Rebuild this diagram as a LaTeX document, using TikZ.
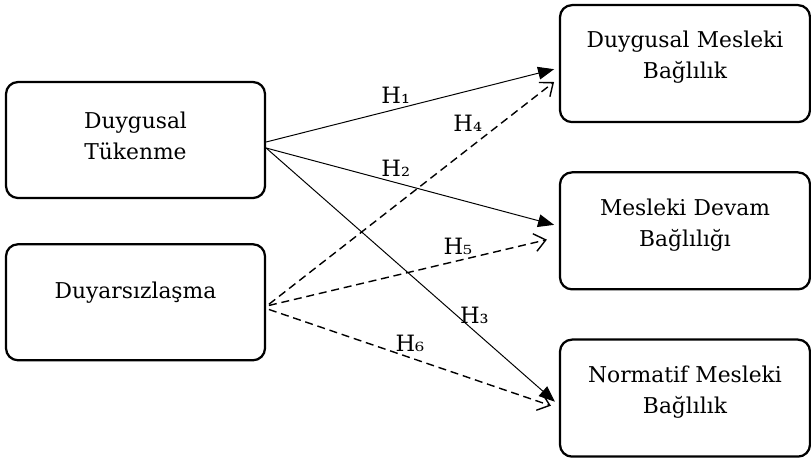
\documentclass[tikz,border=0pt]{standalone}
\usepackage{fontspec}
\setmainfont{DejaVu Serif}
\usetikzlibrary{arrows.meta,positioning}

\begin{document}
\begin{tikzpicture}[
		node distance=1.1cm,
        block/.style={draw, line width=1.6pt, rounded corners=0.3cm, fill=white, minimum height=2.9cm, minimum width=6.475cm, text width=6.2cm, text depth=1cm, align=center, font=\fontsize{15.5}{22}\selectfont},
        rblock/.style={block, minimum height=2.925cm, minimum width=6.25cm, text width=6cm, text depth=1.2cm},
        arrow/.style={line width=0.7pt, -{Triangle[length=0.4cm, width=0.32cm]}},
        darrow/.style={line width=1pt, dash pattern=on 0.2cm off 0.12cm, -{Straight Barb[length=0.28cm, width=0.45cm, line width=1pt]}},
        hlabel/.style={font=\fontsize{16}{18}\selectfont, inner sep=2pt},
	]
		\useasboundingbox (0,0) rectangle (20.275,-11.45);
		\node[block] (tuk) at (3.3875,-3.5) {Duygusal\\Tükenme};
		\node[block, below=of tuk, text depth=0.6cm] (duy) {Duyarsızlaşma};
		\node[rblock] (dmb) at (17.125,-1.59) {Duygusal Mesleki\\Bağlılık};
		\node[rblock, below=1.2cm of dmb] (mdb) {Mesleki Devam\\Bağlılığı};
		\node[rblock, below=1.2cm of mdb] (nmb) {Normatif Mesleki\\Bağlılık};
		
		\draw[arrow] ([yshift=-0.05cm]tuk.east) -- ([xshift=-0.12cm, yshift=-0.14cm]dmb.west) node[hlabel, pos=.45, above=2pt] {H₁};
		\draw[arrow] ([yshift=-0.2cm]tuk.east) -- ([xshift=-0.12cm, yshift=0.15cm]mdb.west) node[hlabel, pos=.45, above=2pt] {H₂};
		\draw[arrow] ([yshift=-0.2cm]tuk.east) -- ([xshift=-0.1cm, yshift=-0.09cm]nmb.west) node[hlabel, pos=.66, right] {H₃};
		\draw[darrow] ([xshift=0.07cm, yshift=-0.05cm]duy.east) -- ([xshift=-0.12cm, yshift=-0.46cm]dmb.west) node[hlabel, pos=.76, above left] {H₄};
		\draw[darrow] ([xshift=0.07cm, yshift=-0.08cm]duy.east) -- ([xshift=-0.3cm, yshift=-0.22cm]mdb.west) node[hlabel, pos=.68, above=2pt] {H₅};
		\draw[darrow] ([xshift=0.07cm, yshift=-0.18cm]duy.east) -- ([xshift=-0.2cm, yshift=-0.19cm]nmb.west) node[hlabel, pos=.5, above=2pt] {H₆};
	\end{tikzpicture}
\end{document}
